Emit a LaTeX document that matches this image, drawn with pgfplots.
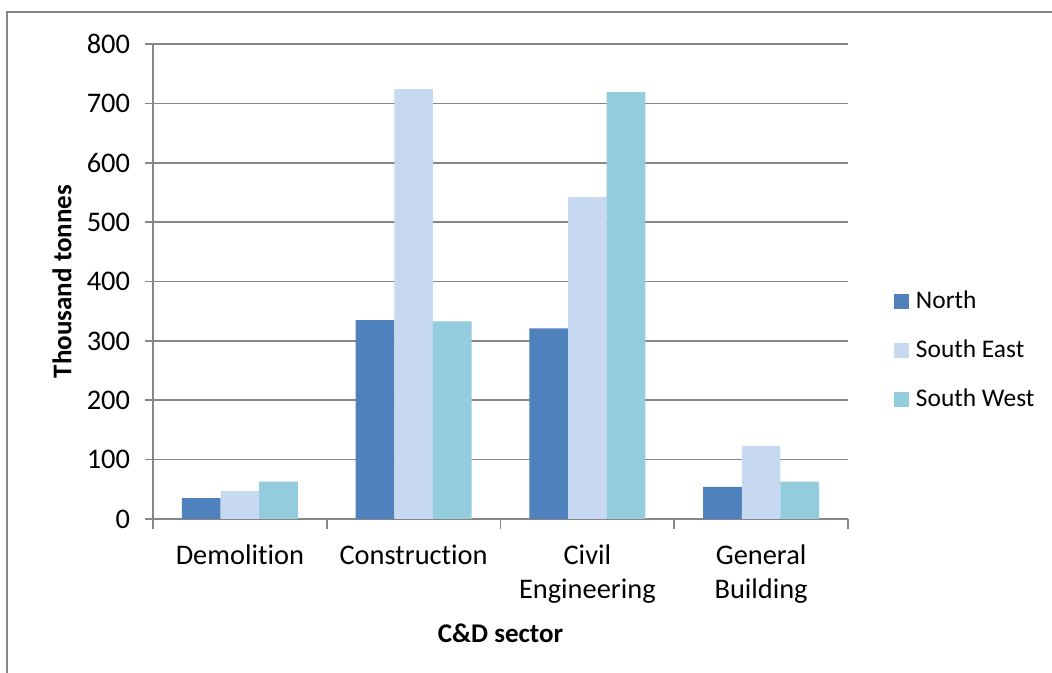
\documentclass[border=0pt]{standalone}
\usepackage{pgfplots}
\pgfplotsset{compat=1.18}
\usepackage{fontspec}
\setmainfont{Carlito}[Ligatures=NoCommon]
\definecolor{cNorth}{HTML}{4F81BD}
\definecolor{cSE}{HTML}{C6D9F1}
\definecolor{cSW}{HTML}{93CDDD}
\definecolor{gridgray}{HTML}{868686}
\begin{document}
\begin{tikzpicture}
\path[use as bounding box] (0,0) rectangle (526bp,336.5bp);
\draw[gridgray, line width=1.3bp] (3.5bp,-1bp) -- (3.5bp,330.5bp) -- (527bp,330.5bp);
\begin{axis}[
  at={(76.5bp,77bp)}, anchor=south west,
  scale only axis, width=347.5bp, height=237.5bp,
  ybar=0pt, bar width=19.3bp,
  xmin=-0.5, xmax=3.5, ymin=0, ymax=800,
  ytick={0,100,...,800},
  xtick={0,1,2,3},
  xticklabels={Demolition, Construction, {Civil\\Engineering}, {General\\Building}},
  minor xtick={-0.5,0.5,1.5,2.5,3.5},
  major x tick style={draw=none},
  minor x tick style={gridgray, line width=0.8bp},
  minor tick length=5bp,
  major tick length=4bp,
  tick align=outside,
  ytick style={gridgray, line width=0.8bp},
  axis x line*=bottom, axis y line*=left,
  axis line style={gridgray, line width=0.8bp},
  ymajorgrids, grid style={gridgray, line width=0.8bp},
  /pgf/number format/assume math mode=true,
  every tick label/.append style={font=\fontsize{14.2bp}{17bp}\selectfont, text=black},
  xticklabel style={align=center, yshift=-5.5bp},
  yticklabel style={xshift=-4bp},
  ylabel={\textbf{Thousand tonnes}},
  xlabel={\textbf{C\&D sector}},
  label style={font=\fontsize{13.5bp}{16bp}\selectfont},
  ylabel style={at={(axis description cs:-0.131,0.5)}, anchor=center},
  xlabel style={at={(axis description cs:0.5,-0.24)}, anchor=center},
  legend style={at={(axis description cs:1.057,0.354)}, anchor=west, draw=none, fill=none,
    font=\fontsize{12.7bp}{15bp}\selectfont, row sep=8bp,
    nodes={text height=9.5bp, text depth=3bp, inner sep=2bp},
    /tikz/every odd column/.append style={column sep=1.5bp}},
  legend cell align=left,
  legend image code/.code={\fill[#1] (0bp,-3.75bp) rectangle (7.5bp,3.75bp);},
]
\addplot[fill=cNorth, draw=none] coordinates {(0,35) (1,335) (2,321) (3,54)};
\addplot[fill=cSE, draw=none] coordinates {(0,47) (1,724) (2,542) (3,123)};
\addplot[fill=cSW, draw=none] coordinates {(0,63) (1,333) (2,719) (3,63)};
\legend{North, South East, South West}
\end{axis}
\end{tikzpicture}
\end{document}
